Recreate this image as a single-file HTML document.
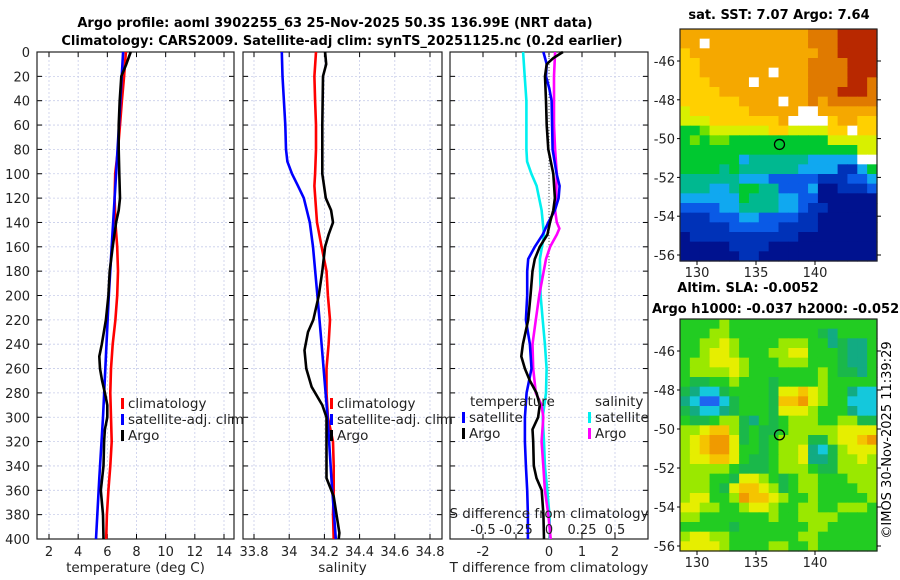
<!DOCTYPE html>
<html><head><meta charset="utf-8"><style>
html,body{margin:0;padding:0;background:#fff}
svg{display:block;font-family:"DejaVu Sans","Liberation Sans",sans-serif}
</style></head><body>
<svg id="fig" width="900" height="580" viewBox="0 0 900 580" xmlns="http://www.w3.org/2000/svg">
<text x="335" y="27" font-size="13" font-weight="bold" text-anchor="middle">Argo profile: aoml 3902255_63 25-Nov-2025 50.3S 136.99E (NRT data)</text>
<text x="342" y="45" font-size="13" font-weight="bold" text-anchor="middle">Climatology: CARS2009. Satellite-adj clim: synTS_20251125.nc (0.2d earlier)</text>
<text x="779" y="19" font-size="13" font-weight="bold" text-anchor="middle">sat. SST: 7.07 Argo: 7.64</text>
<text x="748" y="292" font-size="13" font-weight="bold" text-anchor="middle">Altim. SLA: -0.0052</text>
<text x="652" y="313" font-size="13" font-weight="bold">Argo h1000: -0.037 h2000: -0.052</text>
<text transform="translate(891,440) rotate(-90)" font-size="13" text-anchor="middle">©IMOS 30-Nov-2025 11:39:29</text>
<g id="layer"></g>
</svg>
<script>
// ---------- data ----------
const depthTicks = [0,20,40,60,80,100,120,140,160,180,200,220,240,260,280,300,320,340,360,380,400];
const tTicks = [2,4,6,8,10,12,14];
const sTicks = [33.8,34,34.2,34.4,34.6,34.8];
const dTicks = [-2,-1,0,1,2];
const dTickLabels = ["-2","","0","1","2"];
const sdTicks = [-0.5,-0.25,0,0.25,0.5];

const climTDepth = [0,20,40,60,80,100,120,140,160,180,200,220,240,260,280,300,320,340,360,380,400];
const climT = [7.27,7.15,7.0,6.87,6.73,6.54,6.5,6.55,6.68,6.73,6.68,6.55,6.37,6.25,6.2,6.25,6.3,6.2,6.07,5.97,5.92];
const satTDepth = [0,50,100,150,200,250,300,350,400];
const satT = [7.08,6.85,6.6,6.35,6.1,5.9,5.7,5.45,5.22];
const argoTDepth = [0,10,20,40,60,80,100,120,130,140,160,180,200,220,240,250,260,270,280,290,300,310,320,340,355,360,380,400];
const argoT = [7.6,7.3,6.96,6.85,6.78,6.78,6.82,6.87,6.78,6.6,6.37,6.16,6.07,5.9,5.62,5.45,5.5,5.64,5.83,6.0,6.0,5.83,5.78,5.74,5.6,5.55,5.7,5.74];

const climSDepth = [0,20,40,60,80,100,110,140,160,180,200,220,240,260,280,300,320,340,360,380,400];
const climS = [34.152,34.143,34.147,34.152,34.152,34.147,34.143,34.158,34.184,34.212,34.22,34.232,34.224,34.212,34.212,34.22,34.249,34.253,34.253,34.249,34.253];
const satSDepth = [0,20,40,60,80,90,100,110,120,140,160,200,240,300,350,400];
const satS = [33.958,33.962,33.97,33.978,33.982,33.99,34.016,34.05,34.083,34.117,34.135,34.16,34.184,34.218,34.24,34.265];
const argoSDepth = [0,10,20,60,100,120,130,140,150,160,180,200,220,230,245,260,275,290,300,320,335,350,365,380,395,400];
const argoS = [34.204,34.21,34.192,34.188,34.188,34.208,34.238,34.249,34.224,34.204,34.188,34.168,34.137,34.107,34.087,34.097,34.127,34.188,34.212,34.212,34.212,34.212,34.253,34.269,34.285,34.281];

const dSatTDepth = [0,10,20,30,40,80,100,110,120,130,140,150,160,170,180,200,220,240,260,280,300,320,340,360,380,400];
const dSatT = [-0.17,-0.07,-0.09,0.01,0.08,0.11,0.23,0.32,0.29,0.18,-0.02,-0.19,-0.43,-0.63,-0.66,-0.66,-0.7,-0.58,-0.53,-0.68,-0.73,-0.73,-0.7,-0.66,-0.64,-0.64];
const dArgoTDepth = [0,5,10,20,40,60,80,100,120,130,140,150,160,170,180,200,220,240,250,260,270,280,290,300,310,320,340,350,360,380,400];
const dArgoT = [0.42,0.13,-0.07,-0.12,-0.09,-0.07,-0.02,0.13,0.18,0.13,0.03,-0.05,-0.28,-0.43,-0.5,-0.56,-0.63,-0.79,-0.84,-0.73,-0.58,-0.38,-0.28,-0.33,-0.5,-0.48,-0.46,-0.38,-0.22,-0.17,-0.15];
const dSatSDepth = [0,20,40,80,90,100,110,130,150,170,200,220,240,260,280,300,320,340,360,380,400];
const dSatS = [-0.196,-0.184,-0.171,-0.171,-0.166,-0.133,-0.094,-0.056,-0.038,-0.069,-0.064,-0.048,-0.031,-0.018,-0.023,-0.048,-0.038,-0.031,-0.013,0.003,0.008];
const dArgoSDepth = [0,20,60,80,100,120,130,140,145,150,160,170,200,220,240,260,280,290,300,320,340,360,380,400];
const dArgoS = [0.046,0.038,0.038,0.046,0.059,0.054,0.046,0.059,0.079,0.059,0.008,-0.023,-0.074,-0.1,-0.125,-0.12,-0.1,-0.056,-0.043,-0.056,-0.043,-0.031,-0.005,0.013];

// SST map grid (codes 0-9,A,B; W = no data), rows north->south
const sstRows = [
"9999999999999AAABBBB","99W9999999999AAABBBB","89999999999999AABBBB","8899999999999AAAABBB",
"889999999W999AAAABBB","8889999W99999AAAABBA","8888999999999AAABBBA","8888889999W99A9AAAAA",
"788888899999WW999999","77788888889WWWW89988","55677777788777788W88","56566555555555577777",
"55555555555555555577","555555344444433333WW","55554544444433331135","44444433322222111223",
"44433455442223001112","33333354443322000000","22223344443321100000","11122233222211000000",
"11111222221111000000","01111111111100000000","00000111100000000000","00000011000000000000"];
const sstPalette = {"0":"#00128f","1":"#0032b8","2":"#0a5ae6","3":"#10a8f0","4":"#00b890","5":"#00c830","6":"#6ee000","7":"#d8f000","8":"#ffd000","9":"#f5a800","A":"#e07a00","B":"#b82800","W":"#ffffff"};
// SLA map grid codes 0-8
const slaRows = [
"44445444444444444444","44455444444444324444","44556544445554423224","44566544455664443224",
"45566654445554443224","45555654444444543324","43344544434444544444","32113444436676544211",
"21001344437786544111","32112344436665444211","43345532434555445533","55677534334555556666",
"56788634345553356678","56788644345562135666","56677643345562235565","55555433345554335555",
"55544366543455444555","55543677653455444455","56644587765445444445","66554456654455445554",
"55444444454455554444","44444344444445544444","56655444444455444444","66665444455445444444"];
const slaPalette = ["#1e64f0","#14c8dc","#12ab82","#1ab84a","#22cc22","#9ae800","#e6ee00","#f5c400","#f09a00"];
const mapXTicks = [130,135,140];
const mapYTicks = [-46,-48,-50,-52,-54,-56];
const argoLon = 136.99, argoLat = -50.3;

// ---------- drawing ----------
const NS="http://www.w3.org/2000/svg";
const layer=document.getElementById('layer');
function el(tag,attrs,parent){const e=document.createElementNS(NS,tag);for(const k in attrs)e.setAttribute(k,attrs[k]);(parent||layer).appendChild(e);return e;}
const Y0=52, Y1=539;
function yD(d){return Y0+(d/400)*(Y1-Y0);}
function lin(v0,v1,p0,p1){return v=>p0+(v-v0)/(v1-v0)*(p1-p0);}
const panels=[
 {x0:37,x1:234,fx:lin(2,14,49,224),ticks:tTicks,labels:tTicks.map(String),title:"temperature (deg C)",name:"temperature-panel"},
 {x0:243,x1:442,fx:lin(33.8,34.8,254,430),ticks:sTicks,labels:sTicks.map(String),title:"salinity",name:"salinity-panel"},
 {x0:450,x1:648,fx:lin(0,1,549,582),ticks:dTicks,labels:dTickLabels,title:"T difference from climatology",name:"difference-panel"}
];
panels.forEach((p,i)=>{
 const g=el('g',{});
 
 
 depthTicks.forEach(d=>{if(d>0&&d<400){const l=el('line',{x1:p.x0,x2:p.x1,y1:yD(d),y2:yD(d),stroke:'#c8cdea','stroke-width':0.8,'stroke-dasharray':'2,2'},g);}
  const t1=el('line',{x1:p.x0,x2:p.x0+5,y1:yD(d),y2:yD(d),stroke:'#000'},g);const t2=el('line',{x1:p.x1-5,x2:p.x1,y1:yD(d),y2:yD(d),stroke:'#000'},g);
  
  if(i===0){const t=el('text',{x:30,y:yD(d)+5,'font-size':13,'text-anchor':'end',fill:'#222'},g);t.textContent=d;}
 });
 p.ticks.forEach((v,k)=>{const x=p.fx(v);
  const gl=el('line',{x1:x,x2:x,y1:Y0,y2:Y1,stroke:'#c8cdea','stroke-width':0.8,'stroke-dasharray':'2,2'},g);
  el('line',{x1:x,x2:x,y1:Y1,y2:Y1-5,stroke:'#000'},g);el('line',{x1:x,x2:x,y1:Y0,y2:Y0+5,stroke:'#000'},g);
  if(p.labels[k]!==""){const t=el('text',{x:x,y:556,'font-size':13,'text-anchor':'middle',fill:'#222'},g);t.textContent=p.labels[k];}
 });
 const fr=el('rect',{x:p.x0,y:Y0,width:p.x1-p.x0,height:Y1-Y0,fill:'none',stroke:'#222','stroke-width':1.2},g);
 
 const at=el('text',{x:(p.x0+p.x1)/2,y:572,'font-size':13.5,'text-anchor':'middle',fill:'#222'},g);at.textContent=p.title;
 
 p.g=g;
});
function line(panel,fx,vals,depths,color,name){
 const pts=vals.map((v,k)=>fx(v).toFixed(1)+','+yD(depths[k]).toFixed(1)).join(' ');
 const pl=el('polyline',{points:pts,fill:'none',stroke:color,'stroke-width':2.6,'stroke-linejoin':'round'},panel.g);
 
 
}
const P1=panels[0],P2=panels[1],P3=panels[2];
line(P1,P1.fx,climT,climTDepth,'#f00','climatology-temperature-line');
line(P1,P1.fx,satT,satTDepth,'#00f','satellite-temperature-line');
line(P1,P1.fx,argoT,argoTDepth,'#000','argo-temperature-line');
line(P2,P2.fx,climS,climSDepth,'#f00','climatology-salinity-line');
line(P2,P2.fx,satS,satSDepth,'#00f','satellite-salinity-line');
line(P2,P2.fx,argoS,argoSDepth,'#000','argo-salinity-line');
const zl=el('line',{x1:P3.fx(0),x2:P3.fx(0),y1:Y0,y2:Y1,stroke:'#555','stroke-dasharray':'1,2'},P3.g);

const fsd=lin(0,0.25,549,582);
line(P3,fsd,dSatS,dSatSDepth,'#00f0f0','satellite-salinity-diff-line');
line(P3,fsd,dArgoS,dArgoSDepth,'#f0f','argo-salinity-diff-line');
line(P3,P3.fx,dSatT,dSatTDepth,'#00f','satellite-temperature-diff-line');
line(P3,P3.fx,dArgoT,dArgoTDepth,'#000','argo-temperature-diff-line');
const sdt=el('text',{x:549,y:518,'font-size':13.5,'text-anchor':'middle',fill:'#222'},P3.g);sdt.textContent='S difference from climatology';

sdTicks.forEach(v=>{const t=el('text',{x:fsd(v),y:534,'font-size':13,'text-anchor':'middle',fill:'#222'},P3.g);t.textContent=String(v);
 });
function legend(x,y,color,label){
 const g=el('g',{});
 
 
 el('rect',{x:x,y:y-10,width:3,height:11,fill:color},g);
 const t=el('text',{x:x+7,y:y,'font-size':13.5,fill:'#222'},g);t.textContent=label;
}
legend(121,408,'#f00','climatology');legend(121,424,'#00f','satellite-adj. clim');legend(121,440,'#000','Argo');
legend(330,408,'#f00','climatology');legend(330,424,'#00f','satellite-adj. clim');legend(330,440,'#000','Argo');
const lt=el('text',{x:470,y:406,'font-size':13.5,fill:'#222'});lt.textContent='temperature';
const ls=el('text',{x:595,y:406,'font-size':13.5,fill:'#222'});ls.textContent='salinity';
legend(462,422,'#00f','satellite');legend(462,438,'#000','Argo');
legend(588,422,'#00f0f0','satellite');legend(588,438,'#f0f','Argo');

function drawMap(y0,y1,rows,colorOf,name,latTop,latBot,labelY){
 const x0=680,x1=877;
 const g=el('g',{});
 
 
 const nr=rows.length,nc=rows[0].length,cw=(x1-x0)/nc,ch=(y1-y0)/nr;
 rows.forEach((r,ri)=>{for(let ci=0;ci<nc;ci++){
  const c=el('rect',{x:(x0+ci*cw).toFixed(2),y:(y0+ri*ch).toFixed(2),width:(cw+0.6).toFixed(2),height:(ch+0.6).toFixed(2),fill:colorOf(r[ci])},g);
  
  
 }});
 const fx=lin(130,140,697,815), fy=lin(latTop,latBot,y0,y1);
 el('rect',{x:x0,y:y0,width:x1-x0,height:y1-y0,fill:'none',stroke:'#222','stroke-width':1.2},g);
 mapXTicks.forEach(v=>{el('line',{x1:fx(v),x2:fx(v),y1:y1,y2:y1+4,stroke:'#000'},g);
  const t=el('text',{x:fx(v),y:labelY,'font-size':13,'text-anchor':'middle',fill:'#222'},g);t.textContent=v;});
 mapYTicks.forEach(v=>{el('line',{x1:x1,x2:x1+4,y1:fy(v),y2:fy(v),stroke:'#000'},g);el('line',{x1:x0,x2:x0-3,y1:fy(v),y2:fy(v),stroke:'#000'},g);
  const t=el('text',{x:x0-5,y:fy(v)+5,'font-size':13,'text-anchor':'end',fill:'#222'},g);t.textContent=v;});
 const c=el('circle',{cx:fx(argoLon),cy:fy(argoLat),r:5,fill:'none',stroke:'#000','stroke-width':1.3},g);
 
}
drawMap(29,261,sstRows,ch=>sstPalette[ch],'sst-map',-46+(61-29)/19.4,-56-(261-255)/19.4,277);
drawMap(319,551,slaRows,ch=>slaPalette[+ch],'sla-map',-46+(351-319)/19.5,-56-(551-546)/19.5,567);
</script>
</body></html>
